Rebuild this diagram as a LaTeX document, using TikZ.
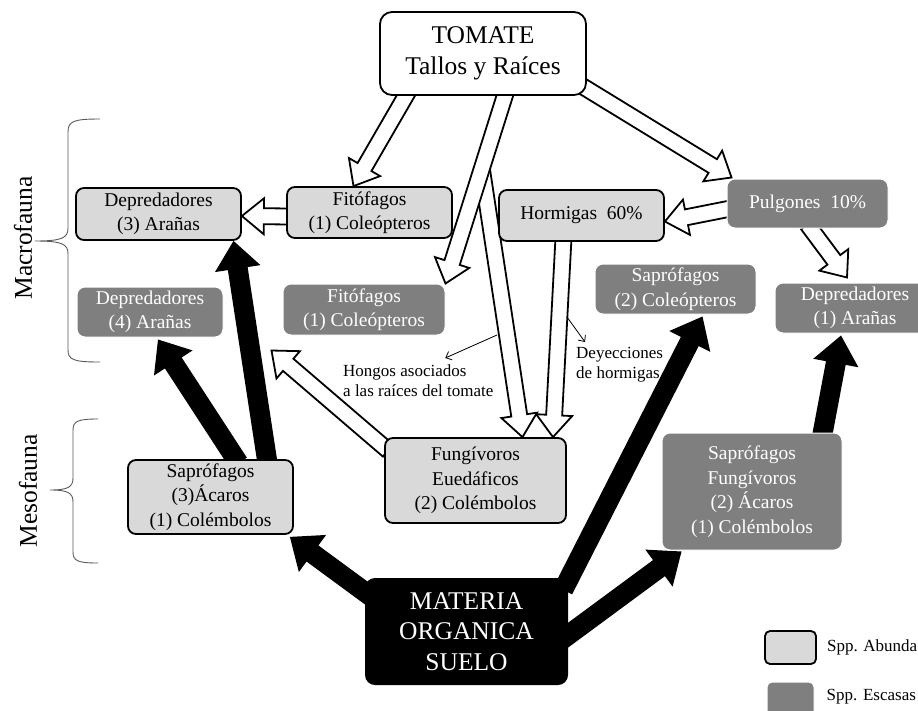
\documentclass[tikz,border=0pt]{standalone}
\usepackage{fontspec}
\setmainfont{Liberation Serif}
\usetikzlibrary{calc, positioning, arrows.meta}

\definecolor{abunda}{HTML}{D9D9D9}
\definecolor{escasa}{HTML}{7F7F7F}
\pgfdeclarelayer{background}
\pgfsetlayers{background,main}

\newcommand{\boxfont}{\fontsize{19.5}{24.5}\selectfont}
\newcommand{\bigfont}{\fontsize{25.5}{30.5}\selectfont}
\newcommand{\notefont}{\fontsize{17}{20.5}\selectfont}

\tikzset{
  taxon/.style={rounded corners=8pt, align=center, font=\boxfont, inner sep=0pt},
  abun/.style={taxon, draw=black, line width=1.8pt, fill=abunda},
  esc/.style={taxon, draw=white, line width=1pt, fill=escasa, text=white},
  openarr/.style={draw=black, fill=white, line width=1.8pt, line join=miter,
    /utils/exec={\def\shaftw{8pt}\def\headw{18pt}\def\headl{22pt}}},
  solidarr/.style={fill=black, line join=miter,
    /utils/exec={\def\shaftw{10pt}\def\headw{23pt}\def\headl{28pt}}},
  note/.style={font=\notefont, align=left, inner sep=0pt},
  llave/.style={draw=black!65, line width=0.9pt},
}

% block arrow: tail -> tip
\newcommand{\blockarrow}[3][openarr]{%
  \begin{scope}[#1]
    \coordinate (tail) at (#2);
    \coordinate (tip) at (#3);
    \coordinate (neck) at ($(tip)!\headl!(tail)$);
    \path[#1] ($(tail)!\shaftw!90:(tip)$) -- ($(neck)!\shaftw!90:(tip)$)
      -- ($(neck)!\headw!90:(tip)$) -- (tip)
      -- ($(neck)!\headw!-90:(tip)$) -- ($(neck)!\shaftw!-90:(tip)$)
      -- ($(tail)!\shaftw!-90:(tip)$) -- cycle;
  \end{scope}}

\begin{document}
\begin{tikzpicture}[x=1pt, y=-1pt, >={Straight Barb[length=5pt, width=9pt]}]
    \useasboundingbox (0,0) rectangle (918,710);

    \node[abun, fill=white, font=\bigfont, rounded corners=12pt,
      minimum width=206pt, minimum height=83pt] (tomate) at (483,53.5) {TOMATE\\Tallos y Raíces};

    % macrofauna
    \node[abun, minimum width=165pt, minimum height=52pt] (depre-abun) at (158.5,214) {Depredadores\\(3) Arañas};
    \node[abun, minimum width=165pt, minimum height=51pt] (fito-abun) at (369.5,212.5) {Fitófagos\\(1) Coleópteros};
    \node[esc, minimum width=146pt, minimum height=50pt] (depre-esc) at (150,312) {Depredadores\\(4) Arañas};
    \node[esc, minimum width=162pt, minimum height=51pt] (fito-esc) at (364,309.5) {Fitófagos\\(1) Coleópteros};
    \node[abun, minimum width=165pt, minimum height=51pt] (hormigas) at (581.5,215.5) {Hormigas\ \ 60\%};
    \node[esc, minimum width=161pt, minimum height=49pt] (pulgones) at (807.5,203.5) {Pulgones\ \ 10\%};
    \node[esc, minimum width=161pt, minimum height=50pt] (sapro-esc) at (675.5,289) {Saprófagos\\(2) Coleópteros};
    \node[esc, minimum width=160pt, minimum height=50pt] (depre-1) at (855,308) {Depredadores\\(1) Arañas};

    % mesofauna
    \node[abun, minimum width=165pt, minimum height=74pt] (sapro-abun) at (210.5,497) {Saprófagos\\(3)Ácaros\\(1) Colémbolos};
    \node[abun, minimum width=181pt, minimum height=85pt] (fungi) at (475.5,480.5) {Fungívoros\\Euedáficos\\(2) Colémbolos};
    \node[esc, minimum width=180pt, minimum height=117pt] (sapro-fungi) at (752,491.5) {Saprófagos\\Fungívoros\\(2) Ácaros\\(1) Colémbolos};

    \node[taxon, fill=black, text=white, font=\bigfont, rounded corners=10pt,
      minimum width=203pt, minimum height=107pt] (materia) at (466.5,631.5) {MATERIA\\ORGANICA\\SUELO};

    % arrows
    \begin{pgfonlayer}{background}
      \coordinate (fito-tail) at ($(tomate.south)+(23,-4)$);
      \coordinate (split) at ($(fito-tail)!0.4!(fito-esc.north east)$);
      \blockarrow{split}{$(fungi.north)+(47,0)$}
      \blockarrow{fito-tail}{fito-esc.north east}
      \blockarrow{$(tomate.south)+(-75,-4)$}{$(fito-abun.north)+(-16,0)$}
      \blockarrow{$(hormigas.south)+(-18,-4)$}{$(fungi.north)+(77.5,0)$}
      \blockarrow{$(tomate.east)+(-4,33)$}{$(pulgones.north west)+(5,-1)$}
      \blockarrow{$(pulgones.west)+(4,5)$}{$(hormigas.east)+(0,6)$}
      \blockarrow{$(pulgones.south)+(0,-4)$}{$(depre-1.north)+(-8,-5)$}
      \blockarrow{$(fito-abun.west)+(4,4)$}{$(depre-abun.east)+(0,2)$}
      \blockarrow{$(fungi.west)+(4,-30)$}{$(fito-esc.south west)+(-11,15)$}

      \blockarrow[solidarr]{$(sapro-abun.north)+(57,4)$}{$(depre-abun.south)+(75,0)$}
      \blockarrow[solidarr]{$(sapro-abun.north)+(28,4)$}{$(depre-esc.south)+(8,2)$}
      \blockarrow[solidarr]{$(materia.north west)+(8,20)$}{$(sapro-abun.south east)+(-4,2)$}
      \blockarrow[solidarr]{$(materia.north east)+(-5,12)$}{$(sapro-esc.south)+(27,2)$}
      \blockarrow[solidarr]{$(materia.east)+(-6,8)$}{$(sapro-fungi.south west)+(20,1)$}
      \blockarrow[solidarr]{$(sapro-fungi.north)+(70,4)$}{$(depre-1.south)+(-14,2)$}
    \end{pgfonlayer}

    % notes
    \node[note, anchor=north west] (hongos) at (343,364) {Hongos asociados\\a las raíces del tomate};
    \coordinate (hongos-src) at (497,335);
    \draw[line width=0.8pt, ->] (hongos-src) -- ($(hongos.north)+(27,-6)$);
    \node[note, anchor=north west] (deyecciones) at (576,347) {Deyecciones\\de hormigas};
    \coordinate (deyec-src) at (567,317);
    \draw[line width=0.8pt, ->] (deyec-src) -- ($(deyecciones.north west)+(9,-5)$);

    % braces
    \draw[llave] (100,119) .. controls (74,119) and (68,121) .. (68,132) -- (68,228)
      .. controls (68,238) and (62,241) .. (35,241) .. controls (62,241) and (68,244) .. (68,254)
      -- (68,350) .. controls (68,360) and (74,362) .. (100,362);
    \node[rotate=90, font=\bigfont, inner sep=0pt] (macro) at (23,238) {Macrofauna};
    \draw[llave] (98,419) .. controls (78,419) and (73,421) .. (73,430) -- (73,478)
      .. controls (73,487) and (68,490) .. (50,490) .. controls (68,490) and (73,493) .. (73,502)
      -- (73,552) .. controls (73,561) and (78,563) .. (98,563);
    \node[rotate=90, font=\bigfont, inner sep=0pt] (meso) at (28,491) {Mesofauna};

    % legend
    \node[abun, rounded corners=5pt, minimum width=51pt, minimum height=33pt] (leg-abun) at (790.5,647.5) {};
    \node[esc, rounded corners=5pt, minimum width=47pt, minimum height=36pt] (leg-esc) at (790.5,700) {};
    \node[note, right=10pt of leg-abun] (leg-abun-txt) {Spp. Abunda};
    \node[note, right=12pt of leg-esc, yshift=3pt] (leg-esc-txt) {Spp. Escasas};
\end{tikzpicture}
\end{document}
